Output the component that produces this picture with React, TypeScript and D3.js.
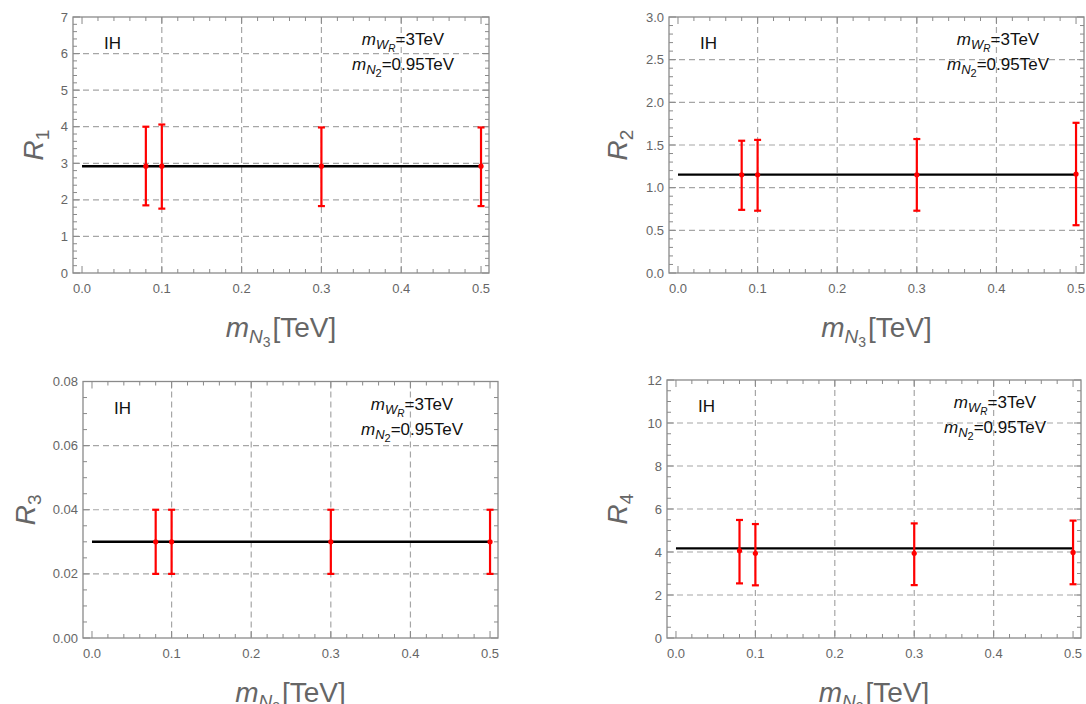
import React from "react";
import * as d3 from "d3";

// x positions of the four benchmark points (TeV)
const massN3 = [0.08, 0.1, 0.3, 0.5];

// R1
const r1Value = [2.92, 2.92, 2.92, 2.92];
const r1Upper = [4.0, 4.06, 3.98, 3.98];
const r1Lower = [1.85, 1.76, 1.83, 1.83];
const r1Line = 2.92;

// R2
const r2Value = [1.15, 1.15, 1.15, 1.16];
const r2Upper = [1.55, 1.56, 1.57, 1.76];
const r2Lower = [0.74, 0.73, 0.73, 0.56];
const r2Line = 1.153;

// R3
const r3Value = [0.03, 0.03, 0.03, 0.03];
const r3Upper = [0.04, 0.04, 0.04, 0.04];
const r3Lower = [0.02, 0.02, 0.02, 0.02];
const r3Line = 0.03;

// R4
const r4Value = [4.06, 3.94, 3.94, 3.98];
const r4Upper = [5.49, 5.3, 5.33, 5.46];
const r4Lower = [2.54, 2.45, 2.46, 2.5];
const r4Line = 4.17;

const xTicks = [0, 0.1, 0.2, 0.3, 0.4, 0.5];
const xGrid = [0.1, 0.2, 0.3, 0.4];
const labelW = "3TeV";
const labelN2 = "0.95TeV";
const ordering = "IH";

const FONT = "'Liberation Sans', Arial, Helvetica, sans-serif";
const AXIS_GRAY = "#8a8a8a";
const TEXT_GRAY = "#666";

const panels = [
  { idx: "1", left: 73, right: 489, top: 17, bottom: 273, yMax: 7, yStep: 1, yMinor: 0.2, dec: 0, yLab: 40, value: r1Value, upper: r1Upper, lower: r1Lower, line: r1Line },
  { idx: "2", left: 669, right: 1084, top: 17, bottom: 273, yMax: 3, yStep: 0.5, yMinor: 0.1, dec: 1, yLab: 52, value: r2Value, upper: r2Upper, lower: r2Lower, line: r2Line },
  { idx: "3", left: 83, right: 498, top: 381.5, bottom: 638, yMax: 0.08, yStep: 0.02, yMinor: 0.005, dec: 2, yLab: 58, value: r3Value, upper: r3Upper, lower: r3Lower, line: r3Line },
  { idx: "4", left: 667, right: 1081, top: 380, bottom: 638, yMax: 12, yStep: 2, yMinor: 0.5, dec: 0, yLab: 50, value: r4Value, upper: r4Upper, lower: r4Lower, line: r4Line },
];

function Panel({ p }) {
  const x = d3.scaleLinear().domain([-0.0113, 0.51]).range([p.left, p.right]);
  const y = d3.scaleLinear().domain([0, p.yMax]).range([p.bottom, p.top]);
  const eps = 1e-9;
  const yMajor = d3.range(0, p.yMax + eps, p.yStep);
  const yMinor = d3.range(0, p.yMax + eps, p.yMinor);
  const xMinor = d3.range(0, 0.5 + eps, 0.02);
  const isMajorX = (v) => Math.abs(v * 10 - Math.round(v * 10)) < 1e-6;
  const isMajorY = (v) => Math.abs(v / p.yStep - Math.round(v / p.yStep)) < 1e-6;
  const yGrid = yMajor.filter((v) => v > eps && v < p.yMax - eps);
  const cx = (p.left + p.right) / 2;
  const cy = (p.top + p.bottom) / 2;
  const annX = p.right - 86;

  return (
    <g>
      {/* dashed grid */}
      {xGrid.map((v) => (
        <line key={"gx" + v} x1={x(v)} x2={x(v)} y1={p.top} y2={p.bottom} stroke="#a6a6a6" strokeWidth={1.2} strokeDasharray="6,4" />
      ))}
      {yGrid.map((v) => (
        <line key={"gy" + v} x1={p.left} x2={p.right} y1={y(v)} y2={y(v)} stroke="#a6a6a6" strokeWidth={1.2} strokeDasharray="6,4" />
      ))}

      {/* frame */}
      <rect x={p.left} y={p.top} width={p.right - p.left} height={p.bottom - p.top} fill="none" stroke={AXIS_GRAY} strokeWidth={1.3} />

      {/* ticks, all inward on four sides */}
      {xMinor.map((v) => {
        const len = isMajorX(v) ? 7 : 4;
        return (
          <g key={"tx" + v}>
            <line x1={x(v)} x2={x(v)} y1={p.bottom} y2={p.bottom - len} stroke={AXIS_GRAY} strokeWidth={1} />
            <line x1={x(v)} x2={x(v)} y1={p.top} y2={p.top + len} stroke={AXIS_GRAY} strokeWidth={1} />
          </g>
        );
      })}
      {yMinor.map((v) => {
        const len = isMajorY(v) ? 7 : 4;
        return (
          <g key={"ty" + v}>
            <line x1={p.left} x2={p.left + len} y1={y(v)} y2={y(v)} stroke={AXIS_GRAY} strokeWidth={1} />
            <line x1={p.right} x2={p.right - len} y1={y(v)} y2={y(v)} stroke={AXIS_GRAY} strokeWidth={1} />
          </g>
        );
      })}

      {/* tick labels */}
      {xTicks.map((v) => (
        <text key={"lx" + v} x={x(v)} y={p.bottom + 20} textAnchor="middle" fontSize={13} fill={TEXT_GRAY} fontFamily={FONT}>
          {v.toFixed(1)}
        </text>
      ))}
      {yMajor.map((v) => (
        <text key={"ly" + v} x={p.left - 5} y={y(v) + 4.5} textAnchor="end" fontSize={13} fill={TEXT_GRAY} fontFamily={FONT}>
          {v.toFixed(p.dec)}
        </text>
      ))}

      {/* axis labels */}
      <text x={cx} y={p.bottom + 64} textAnchor="middle" fontSize={28} fill={TEXT_GRAY} fontFamily={FONT}>
        <tspan fontStyle="italic">m</tspan>
        <tspan fontStyle="italic" fontSize={19} dy={6}>N</tspan>
        <tspan fontSize={14} dy={4}>3</tspan>
        <tspan dy={-10} dx={2}>[TeV]</tspan>
      </text>
      <text transform={`translate(${p.left - p.yLab + 10},${cy}) rotate(-90)`} textAnchor="middle" fontSize={28} fill={TEXT_GRAY} fontFamily={FONT}>
        <tspan fontStyle="italic">R</tspan>
        <tspan fontSize={19} dy={6}>{p.idx}</tspan>
      </text>

      {/* annotations */}
      <text x={p.left + 31} y={p.top + 32} fontSize={17} fill="#111" fontFamily={FONT}>{ordering}</text>
      <text x={annX} y={p.top + 28} textAnchor="middle" fontSize={17} fill="#111" fontFamily={FONT}>
        <tspan fontStyle="italic">m</tspan>
        <tspan fontStyle="italic" fontSize={13} dy={4}>W</tspan>
        <tspan fontStyle="italic" fontSize={10} dy={3}>R</tspan>
        <tspan dy={-7}>={labelW}</tspan>
      </text>
      <text x={annX} y={p.top + 53} textAnchor="middle" fontSize={17} fill="#111" fontFamily={FONT}>
        <tspan fontStyle="italic">m</tspan>
        <tspan fontStyle="italic" fontSize={13} dy={4}>N</tspan>
        <tspan fontSize={11} dy={3}>2</tspan>
        <tspan dy={-7}>={labelN2}</tspan>
      </text>

      {/* constant prediction */}
      <line x1={x(0)} x2={x(0.5)} y1={y(p.line)} y2={y(p.line)} stroke="#000" strokeWidth={2.4} />

      {/* error bars */}
      {massN3.map((m, i) => (
        <g key={"e" + i} stroke="#ff0000" strokeWidth={2.2}>
          <line x1={x(m)} x2={x(m)} y1={y(p.upper[i])} y2={y(p.lower[i])} />
          <line x1={x(m) - 3.5} x2={x(m) + 3.5} y1={y(p.upper[i])} y2={y(p.upper[i])} />
          <line x1={x(m) - 3.5} x2={x(m) + 3.5} y1={y(p.lower[i])} y2={y(p.lower[i])} />
          <circle cx={x(m)} cy={y(p.value[i])} r={2.6} fill="#ff0000" stroke="none" />
        </g>
      ))}
    </g>
  );
}

export default function App() {
  return (
    <div style={{ position: "absolute", left: 0, top: 0 }}>
      <svg width={1086} height={704} style={{ display: "block", background: "#fff" }}>
        {panels.map((p) => (
          <Panel key={p.idx} p={p} />
        ))}
      </svg>
    </div>
  );
}
